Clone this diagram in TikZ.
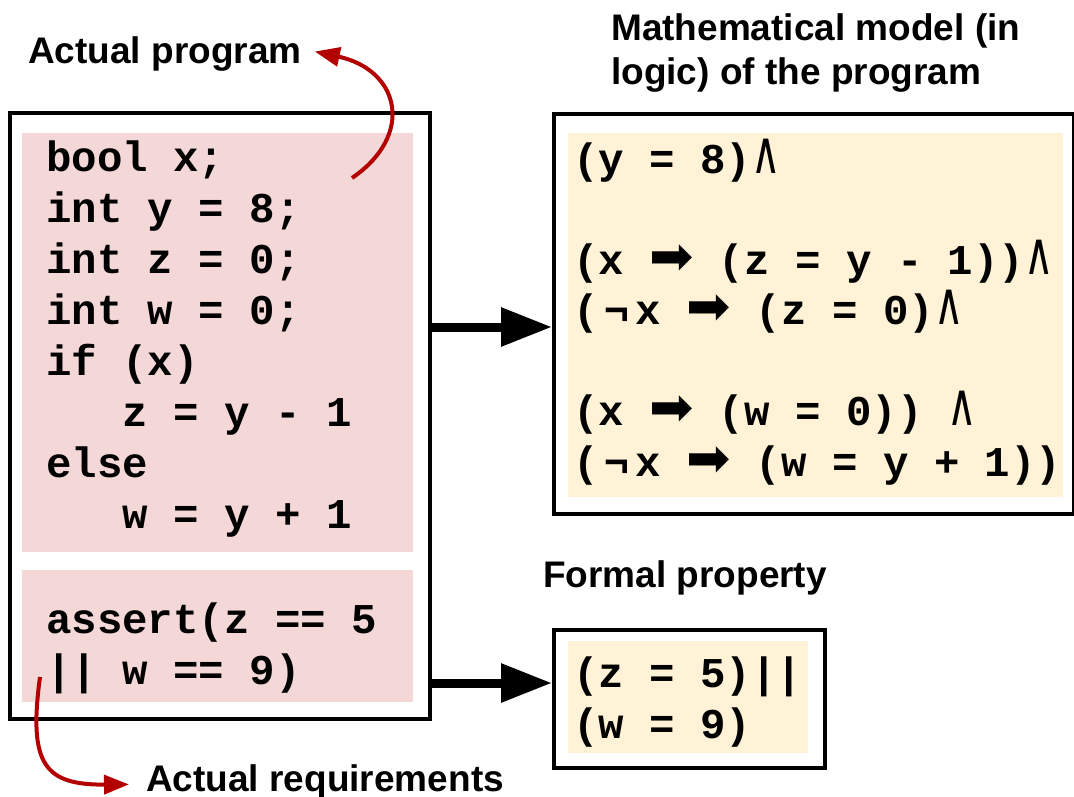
\documentclass[tikz,border=0pt]{standalone}
\usepackage{fontspec}
\usepackage{graphicx}
\setmainfont{Liberation Sans}
\newfontfamily\codefont{Liberation Mono}
\newfontfamily\symfont{DejaVu Sans}
\usetikzlibrary{arrows.meta}

\definecolor{codepink}{HTML}{F4D7D7}
\definecolor{logicyellow}{HTML}{FFF2D6}
\definecolor{arrowred}{HTML}{B30000}

\newcommand{\imp}{\makebox[44pt][l]{\scalebox{1.25}{\symfont\mdseries ➡}}}
\newcommand{\conj}{\scalebox{0.95}[1.4]{\symfont\mdseries ∧}}
\newcommand{\nego}{\makebox[37pt][c]{¬}}

\tikzset{
  frame/.style={draw, line width=4pt, anchor=north west, inner sep=0pt},
  pinkbg/.style={fill=codepink, anchor=north west, inner sep=0pt},
  yellowbg/.style={fill=logicyellow, anchor=north west, inner sep=0pt},
  code/.style={font=\codefont\bfseries\fontsize{42.4}{51}\selectfont, align=left, inner sep=0pt, anchor=base west},
  logic/.style={code, font=\codefont\bfseries\fontsize{42.4}{50.5}\selectfont},
  heading/.style={font=\bfseries\fontsize{37}{44}\selectfont, align=left, inner sep=0pt, anchor=base west},
  bigarrow/.style={line width=9pt, -{Triangle[length=51pt,width=37pt]}},
  redarrow/.style={draw=arrowred, line width=4pt, -{Triangle[length=25pt,width=19pt]}}
}

\begin{document}
\begin{tikzpicture}[x=1pt, y=-1pt]
\useasboundingbox (0,0) rectangle (1074,796);

% the program (text nodes sit on the baseline of their last line)
\node[frame, minimum width=420, minimum height=606] (prog) at (8,111) {};
\node[pinkbg, minimum width=391, minimum height=419] (codebg) at (22,133) {};
\node[pinkbg, minimum width=391, minimum height=132] (assertbg) at (22,570) {};
\node[code] (progtext) at (46,528) {bool x;\\int y = 8;\\int z = 0;\\int w = 0;\\if (x)\\\ \ \ z = y - 1\\else\\\ \ \ w = y + 1};
\node[code] (asserttext) at (46,684) {assert(z == 5\\|| w == 9)};

% the model in logic
\node[frame, minimum width=520, minimum height=400] (model) at (552,112) {};
\node[yellowbg, minimum width=495, minimum height=364] (modelbg) at (568,133) {};
\node[logic] (modeltext) at (573,476) {(y = 8)\conj\\[50.5pt]
  (x \imp{} (z = y - 1))\conj\\
  (\nego x \imp{} (z = 0)\conj\\[50.5pt]
  (x \imp{} (w = 0)) \conj\\
  (\nego x \imp{} (w = y + 1))};

% the property
\node[frame, minimum width=271, minimum height=138] (prop) at (552,628) {};
\node[yellowbg, minimum width=240, minimum height=112] (propbg) at (568,641) {};
\node[code] (proptext) at (573,738) {(z = 5)||\\(w = 9)};

% headings
\node[heading] (proglabel) at (28,63) {Actual program};
\node[heading] (modellabel) at (611,84) {Mathematical model (in\\logic) of the program};
\node[heading] (proplabel) at (543,587) {Formal property};
\node[heading] (reqlabel) at (146,791) {Actual requirements};

% arrows
\coordinate (toModel) at ([yshift=-13pt]model.west);
\coordinate (toProp) at ([yshift=16pt]prop.west);
\draw[bigarrow] (prog.east |- toModel) -- (toModel);
\draw[bigarrow] (prog.east |- toProp) -- (toProp);

\coordinate (declPt) at (352,178);
\coordinate (assertPt) at (40,677);
\draw[redarrow] (declPt) .. controls (415,135) and (400,70) .. ([xshift=13pt,yshift=2pt]proglabel.east);
\draw[redarrow] (assertPt) .. controls (28,765) and (45,785) .. ([xshift=-17pt,yshift=-3pt]reqlabel.west);
\end{tikzpicture}
\end{document}
